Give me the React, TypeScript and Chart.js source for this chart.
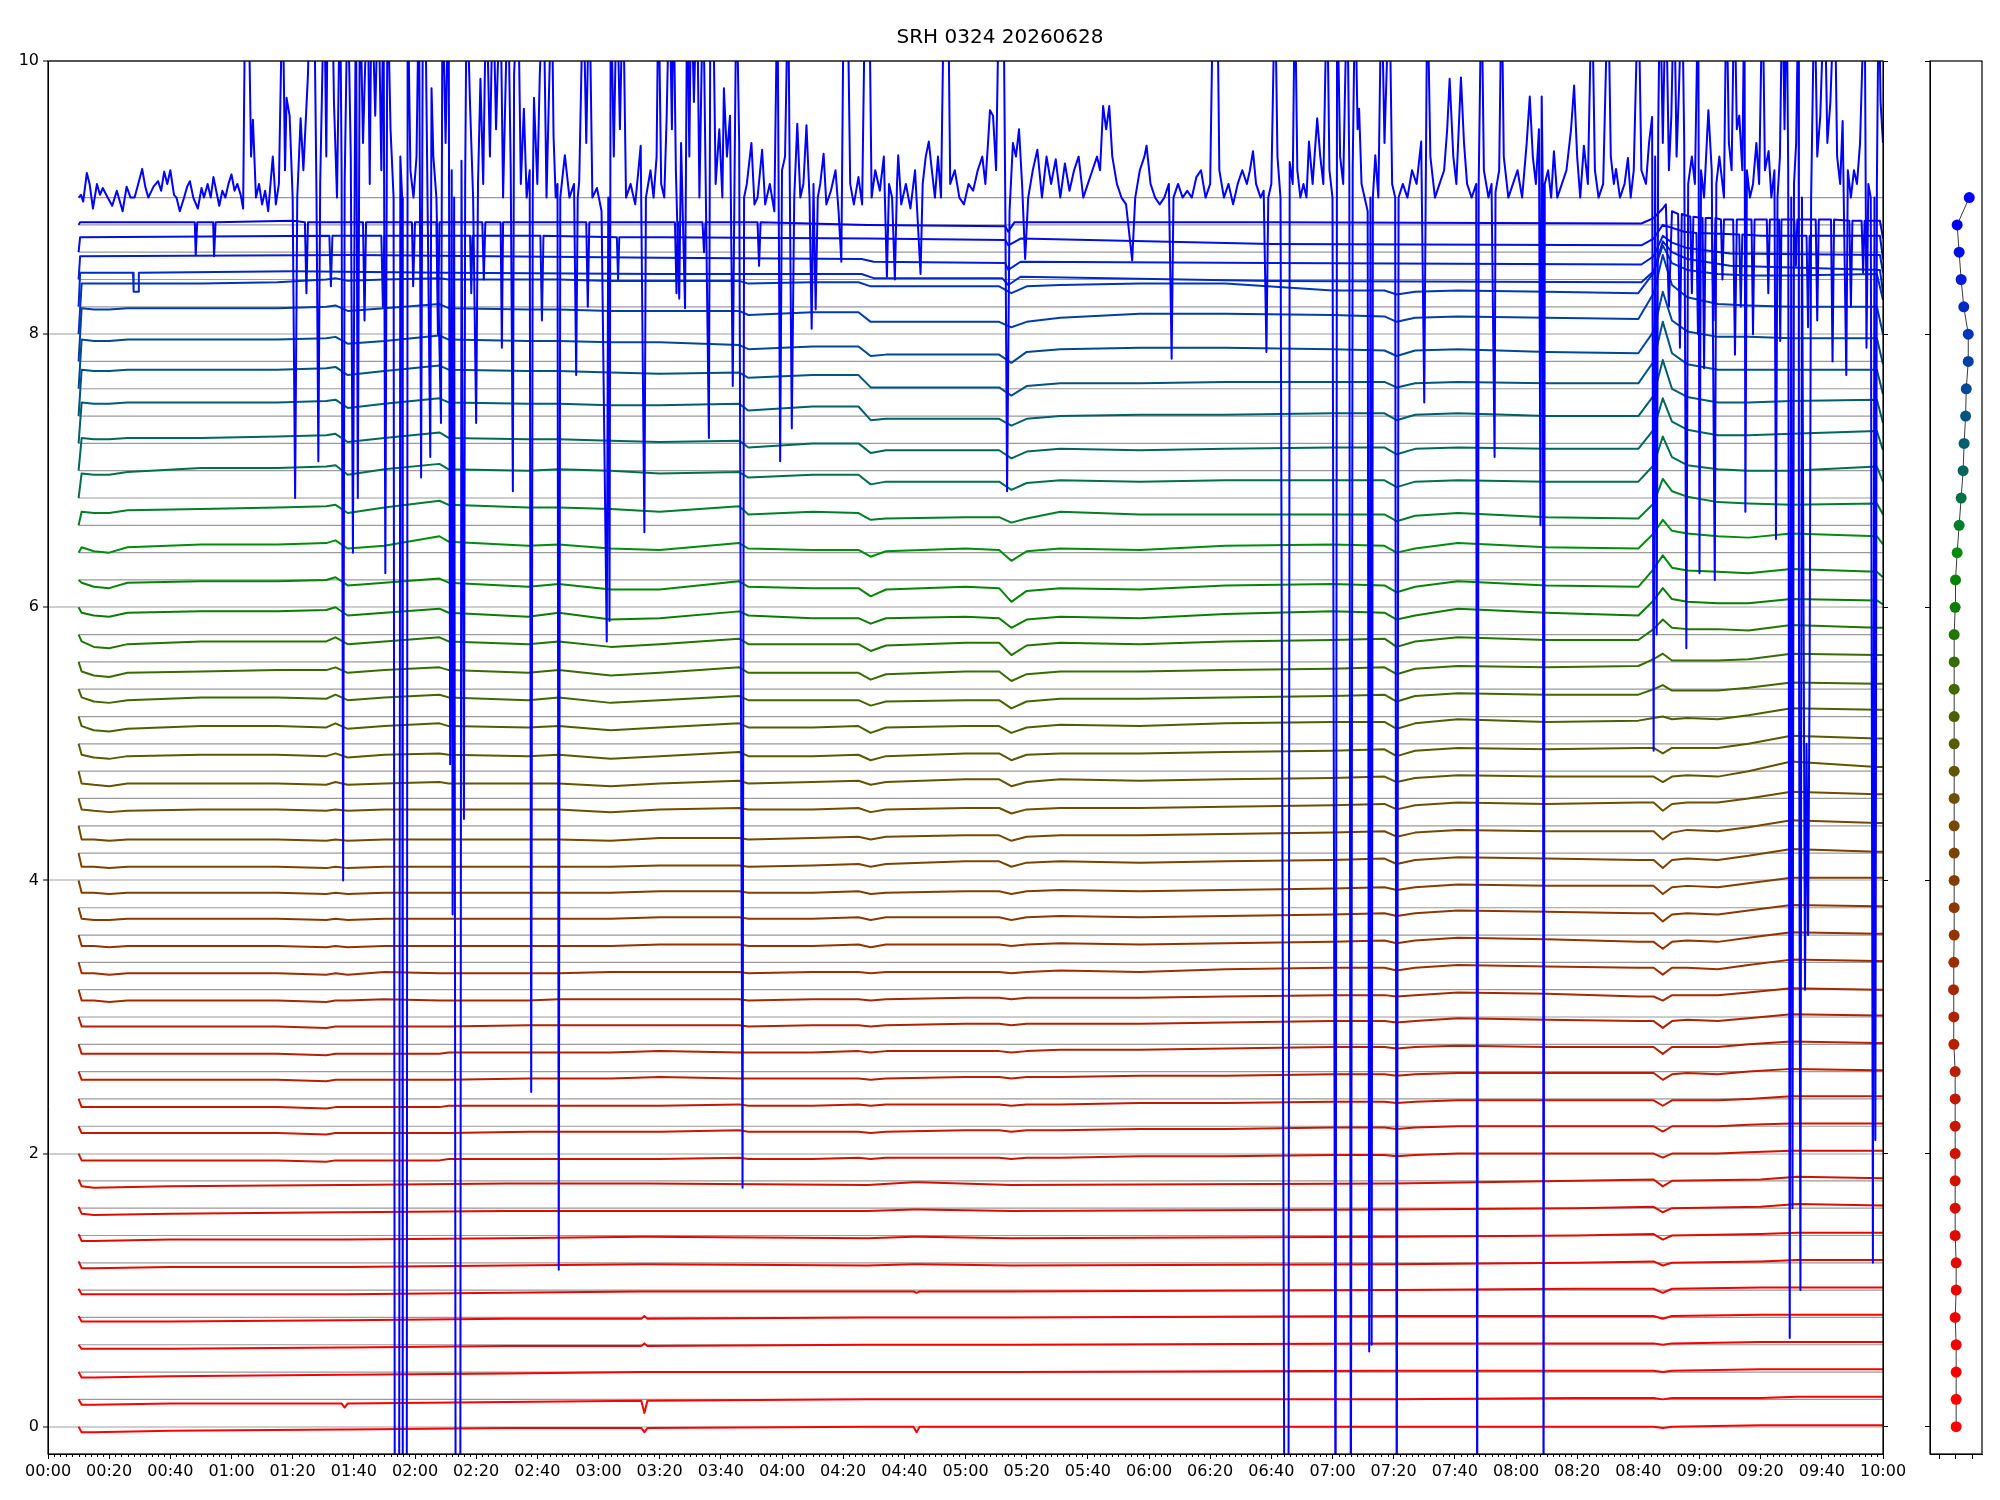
import React, { useEffect, useRef } from 'react';
import { Chart, registerables } from 'chart.js';

Chart.register(...registerables);

// ---------------- text / axes ----------------
const TITLE = 'SRH 0324 20260628';
const X_MAJOR = [0, 20, 40, 60, 80, 100, 120, 140, 160, 180, 200, 220, 240, 260, 280, 300, 320, 340, 360, 380, 400, 420, 440, 460, 480, 500, 520, 540, 560, 580, 600];
const Y_TICKS = [0, 2, 4, 6, 8, 10];
const PROFILE_X_TICKS = [-1, 0, 1];
const LEVEL_STEP = 0.2; // stacking offset between channels
const DATA_START = 10; // minutes (00:10)
const DATA_END = 600; // minutes (10:00)

// ---------------- channels 0-9: deviation (1/100) at TL minutes ----------------
const TL = [10, 11, 15, 40, 96, 97, 98, 150, 194, 195, 196, 268, 283, 284, 285, 315, 440, 500, 525, 528, 531, 560, 572, 600];
const ch00 = [0, -4, -4, -3, -2, -2, -2, -1, -1, -4, -1, 0, 0, -4, 0, 0, 0, 0, 0, -1, 0, 1, 1, 1];
const ch01 = [0, -4, -4, -3, -3, -6, -3, -2, -1, -10, -1, 0, 0, 0, 0, 0, 0, 1, 1, 0, 1, 1, 2, 2];
const ch02 = [0, -4, -4, -3, -2, -2, -2, -1, 0, 0, 0, 0, 0, 0, 0, 0, 1, 1, 1, 0, 1, 2, 2, 2];
const ch03 = [0, -3, -3, -3, -2, -2, -2, -1, -1, 1, -1, 0, 0, 0, 0, 0, 1, 1, 1, 0, 1, 2, 2, 2];
const ch04 = [1, -3, -3, -3, -2, -2, -2, -1, -1, 1, -1, 0, 0, 0, 0, 0, 1, 1, 1, -1, 1, 2, 2, 2];
const ch05 = [1, -3, -3, -3, -3, -3, -3, -2, -1, -1, -1, -1, -1, -2, -1, -1, 0, 1, 1, -2, 1, 2, 2, 2];
const ch06 = [1, -4, -4, -3, -3, -3, -3, -2, -1, -1, -1, -2, -1, -1, -1, -2, -1, 0, 1, -2, 0, 1, 2, 2];
const ch07 = [1, -4, -4, -3, -3, -3, -3, -2, -1, -1, -1, -2, -1, -1, -1, -2, -1, 0, 1, -3, 0, 1, 2, 2];
const ch08 = [1, -4, -5, -4, -3, -3, -3, -2, -2, -2, -2, -2, -1, -1, -1, -2, -1, 0, 1, -3, 0, 1, 3, 2];
const ch09 = [1, -4, -5, -4, -3, -3, -3, -2, -2, -2, -2, -3, -1, -1, -1, -3, -2, 0, 1, -4, 0, 1, 3, 2];

// ---------------- channels 10-40: deviation (1/100) at TM minutes, then TM_END at 10:00 ----------------
const TM = [10, 11, 15, 20, 26, 50, 75, 91, 94, 98, 110, 128, 131, 157, 167, 184, 200, 226, 229, 250, 265, 269, 274, 300, 311, 315, 320, 331, 357, 385, 420, 437, 441, 447, 461, 490, 520, 525, 528, 531, 536, 546, 556, 570, 598];
const ch10 = [0, -5, -5, -5, -5, -5, -5, -6, -5, -5, -5, -5, -4, -4, -4, -4, -4, -3, -4, -4, -3, -4, -3, -3, -3, -4, -3, -3, -2, -2, -1, -1, -2, -1, 0, 0, 0, 0, -3, 0, 0, 0, 1, 2, 2];
const ch11 = [0, -5, -5, -5, -5, -5, -5, -6, -5, -5, -5, -5, -5, -4, -4, -4, -4, -3, -4, -4, -4, -5, -4, -3, -3, -4, -3, -3, -2, -2, -1, -1, -2, -1, 0, 0, 0, 0, -4, 0, 0, 0, 1, 2, 2];
const ch12 = [0, -6, -6, -6, -6, -6, -6, -7, -6, -6, -6, -6, -5, -5, -5, -5, -5, -4, -5, -5, -4, -5, -4, -4, -4, -5, -4, -4, -3, -3, -2, -2, -3, -2, -1, -1, -1, -1, -5, -1, -1, -1, 0, 2, 2];
const ch13 = [0, -6, -6, -6, -6, -6, -6, -7, -6, -6, -6, -6, -6, -5, -5, -5, -4, -5, -5, -5, -5, -6, -5, -4, -4, -5, -4, -4, -3, -3, -2, -2, -3, -2, -1, -1, -1, -1, -6, -2, -1, -2, 0, 2, 1];
const ch14 = [0, -7, -7, -7, -7, -7, -7, -8, -7, -7, -7, -7, -6, -6, -6, -6, -5, -6, -6, -6, -5, -6, -5, -5, -5, -6, -5, -4, -4, -3, -2, -2, -3, -2, -1, -2, -2, -2, -7, -2, -2, -2, 0, 2, 1];
const ch15 = [0, -7, -7, -7, -7, -7, -7, -8, -7, -7, -7, -7, -7, -6, -6, -6, -6, -6, -7, -6, -6, -7, -6, -5, -5, -6, -5, -5, -5, -4, -3, -3, -4, -3, -1, -2, -3, -3, -8, -3, -2, -3, -1, 2, 1];
const ch16 = [0, -8, -8, -9, -8, -8, -8, -9, -8, -8, -7, -8, -8, -8, -7, -7, -7, -7, -8, -7, -7, -8, -7, -6, -6, -7, -6, -6, -6, -5, -4, -4, -5, -4, -2, -3, -5, -5, -8, -4, -4, -4, -2, 1, 0];
const ch17 = [0, -8, -8, -9, -8, -8, -8, -9, -8, -9, -7, -8, -8, -8, -8, -7, -7, -7, -8, -7, -7, -8, -7, -7, -7, -8, -7, -6, -7, -5, -4, -4, -6, -4, -2, -3, -4, -4, -9, -4, -4, -5, -2, 2, 1];
const ch18 = [0, -8, -8, -9, -8, -8, -8, -9, -8, -9, -8, -8, -8, -8, -8, -8, -7, -7, -8, -8, -7, -9, -7, -7, -7, -8, -7, -6, -7, -6, -5, -4, -6, -4, -2, -3, -5, -5, -10, -5, -4, -5, -2, 2, 1];
const ch19 = [0, -8, -9, -9, -8, -8, -8, -9, -8, -9, -8, -8, -8, -8, -8, -8, -7, -7, -8, -8, -7, -9, -7, -7, -7, -9, -7, -6, -7, -6, -5, -4, -6, -4, -2, -3, -4, -4, -10, -5, -4, -5, -2, 2, 1];
const ch20 = [0, -9, -9, -10, -9, -9, -9, -10, -9, -10, -9, -9, -9, -9, -9, -9, -8, -8, -9, -9, -8, -10, -9, -8, -8, -10, -8, -7, -8, -7, -6, -5, -7, -5, -3, -4, -4, -4, -10, -5, -4, -5, -2, 2, 2];
const ch21 = [0, -10, -10, -11, -10, -10, -10, -11, -10, -11, -10, -10, -10, -10, -10, -10, -9, -9, -10, -9, -8, -10, -8, -6, -6, -10, -7, -6, -7, -6, -5, -4, -8, -5, -3, -4, -5, -5, -11, -5, -4, -5, -2, 3, 1];
const ch22 = [0, -10, -10, -11, -10, -10, -10, -11, -10, -11, -10, -10, -10, -10, -10, -11, -9, -9, -10, -9, -8, -10, -8, -7, -7, -11, -8, -7, -7, -6, -5, -4, -8, -5, -3, -4, -4, -4, -10, -5, -3, -4, -1, 4, 2];
const ch23 = [0, -8, -9, -10, -9, -8, -8, -9, -8, -9, -8, -8, -8, -8, -8, -10, -8, -7, -8, -8, -7, -10, -8, -7, -7, -11, -8, -7, -7, -6, -5, -4, -8, -5, -3, -4, -3, -3, -9, -4, -3, -3, 0, 5, 3];
const ch24 = [0, -9, -10, -11, -9, -9, -9, -10, -8, -10, -9, -8, -9, -9, -9, -11, -9, -7, -9, -8, -7, -10, -8, -6, -6, -11, -8, -6, -7, -6, -5, -4, -8, -5, -3, -4, -4, -4, -8, -4, -3, -4, 0, 7, 3];
const ch25 = [0, -8, -10, -11, -9, -8, -8, -9, -7, -10, -8, -7, -8, -9, -8, -11, -9, -6, -9, -9, -8, -12, -9, -7, -7, -12, -8, -7, -7, -6, -5, -4, -9, -5, -3, -4, -3, -3, -7, -3, -3, -3, 0, 6, 4];
const ch26 = [0, -7, -10, -11, -9, -7, -7, -8, -5, -9, -7, -5, -7, -8, -7, -10, -8, -5, -8, -8, -7, -12, -8, -7, -7, -12, -8, -6, -7, -5, -4, -4, -9, -5, -2, -4, -3, -1, 0, -2, -1, -2, 1, 6, 5];
const ch27 = [0, -6, -9, -10, -8, -6, -6, -7, -4, -8, -6, -4, -6, -8, -6, -10, -8, -5, -8, -8, -8, -12, -9, -8, -8, -14, -9, -7, -7, -6, -5, -4, -9, -5, -3, -4, -4, 0, 3, -1, -1, -1, 1, 5, 4];
const ch28 = [0, -7, -10, -11, -8, -7, -6, -6, -4, -8, -6, -4, -6, -8, -6, -10, -8, -4, -8, -8, -8, -13, -9, -7, -7, -14, -9, -7, -7, -6, -5, -4, -9, -5, -3, -4, -3, 2, 6, 1, 1, 1, 2, 6, 5];
const ch29 = [0, -5, -9, -10, -7, -5, -5, -5, -2, -7, -5, -2, -5, -7, -5, -9, -7, -3, -7, -7, -7, -12, -8, -6, -6, -15, -8, -6, -7, -5, -4, -3, -9, -5, -2, -4, -4, 4, 11, 5, 4, 4, 3, 7, 5];
const ch30 = [0, -4, -6, -7, -4, -3, -3, -2, 0, -6, -4, -1, -4, -7, -4, -9, -8, -3, -6, -8, -8, -12, -8, -7, -8, -15, -9, -7, -8, -5, -3, -4, -9, -6, -1, -4, -6, 5, 14, 6, 4, 3, 3, 6, 5];
const ch31 = [0, -2, -5, -6, -2, -1, -1, 0, 2, -4, -2, 1, -2, -5, -3, -7, -7, -1, -5, -6, -6, -12, -7, -5, -6, -16, -8, -6, -7, -4, -3, -4, -9, -5, -1, -4, -5, 8, 18, 9, 7, 6, 5, 8, 6];
const ch32 = [0, 4, 1, 0, 4, 6, 6, 7, 9, 3, 5, 12, 8, 5, 6, 3, 2, 7, 3, 2, 2, -3, 1, 3, 2, -6, 1, 3, 2, 5, 6, 5, 0, 3, 7, 4, 3, 14, 24, 16, 14, 12, 11, 14, 12];
const ch33 = [0, 10, 9, 9, 11, 12, 13, 14, 15, 9, 13, 18, 15, 13, 13, 12, 10, 14, 8, 10, 9, 4, 5, 6, 6, 2, 5, 10, 8, 8, 8, 8, 3, 7, 9, 6, 5, 16, 34, 25, 21, 17, 16, 15, 16];
const ch34 = [0, 18, 17, 17, 19, 22, 22, 23, 24, 17, 21, 25, 21, 20, 21, 20, 18, 19, 15, 17, 17, 10, 12, 12, 12, 6, 11, 13, 12, 13, 13, 13, 8, 12, 13, 12, 12, 24, 45, 30, 24, 21, 20, 20, 23];
const ch35 = [0, 24, 23, 23, 24, 24, 25, 26, 27, 21, 24, 28, 24, 23, 23, 22, 21, 22, 17, 20, 20, 13, 15, 15, 15, 9, 14, 16, 15, 16, 17, 17, 12, 16, 17, 16, 16, 30, 53, 36, 30, 26, 26, 27, 29];
const ch36 = [0, 30, 29, 29, 30, 30, 30, 31, 32, 26, 29, 33, 30, 29, 29, 28, 28, 29, 24, 27, 27, 17, 18, 18, 18, 13, 18, 20, 21, 21, 22, 22, 17, 21, 22, 20, 20, 35, 61, 40, 34, 30, 30, 31, 32];
const ch37 = [0, 34, 33, 33, 34, 34, 34, 35, 36, 30, 33, 37, 34, 33, 33, 32, 31, 32, 28, 30, 30, 21, 21, 21, 21, 15, 22, 24, 24, 25, 25, 25, 21, 24, 25, 24, 24, 40, 69, 46, 38, 34, 34, 34, 34];
const ch38 = [0, 36, 35, 35, 36, 36, 36, 37, 38, 33, 35, 39, 36, 35, 35, 34, 34, 32, 29, 31, 31, 24, 25, 25, 25, 19, 27, 29, 30, 30, 29, 28, 24, 28, 29, 27, 26, 42, 71, 50, 42, 38, 38, 37, 37];
const ch39 = [0, 39, 38, 38, 39, 39, 39, 40, 41, 37, 39, 42, 39, 38, 38, 37, 37, 37, 34, 36, 36, 29, 29, 29, 29, 25, 29, 32, 35, 35, 34, 33, 29, 32, 33, 32, 31, 50, 78, 56, 47, 42, 41, 40, 40];
const ch40 = [0, 37, 37, 37, 37, 37, 38, 40, 41, 39, 40, 41, 40, 40, 40, 39, 39, 39, 37, 38, 38, 35, 35, 35, 35, 30, 35, 36, 37, 37, 32, 32, 29, 31, 32, 31, 30, 45, 65, 52, 47, 44, 43, 43, 44];
// deviation (1/100) at 10:00 for channels 10..40 (end-of-record drop of the upper channels)
const TM_END = [2, 2, 2, 1, 1, 1, 0, 1, 1, 1, 2, 1, 2, 3, 3, 4, 5, 4, 5, 5, 2, 2, 6, 8, 12, 15, 15, 16, 18, 20, 25];

// ---------------- channels 41-45: plotted value pairs [minute, value, ...] ----------------
const ch41 = [10, 8.2, 10.5, 8.45, 27.8, 8.45, 28, 8.31, 29.5, 8.31, 29.7, 8.45, 80, 8.46, 130, 8.45, 200, 8.44, 266, 8.44, 270, 8.41, 312, 8.41, 314, 8.36, 318, 8.42, 400, 8.39, 521, 8.38, 525, 8.46, 528, 8.68, 531, 8.6, 536, 8.55, 550, 8.5, 599, 8.47, 600, 8.3];
const ch42 = [10, 8.4, 10.5, 8.57, 100, 8.58, 200, 8.56, 266, 8.55, 270, 8.53, 313, 8.52, 314, 8.47, 318, 8.53, 400, 8.52, 521, 8.51, 525, 8.57, 528, 8.72, 531, 8.67, 536, 8.63, 550, 8.59, 599, 8.58, 600, 8.45];
const ch43 = [10, 8.6, 10.5, 8.71, 92, 8.72, 92.5, 8.35, 93, 8.72, 109, 8.72, 109.5, 8.2, 110, 8.72, 138, 8.72, 138.4, 8.3, 138.8, 8.72, 161, 8.72, 161.5, 8.1, 162, 8.72, 186, 8.71, 186.4, 8.4, 186.8, 8.71, 200, 8.71, 268, 8.7, 313, 8.69, 314, 8.65, 318, 8.7, 400, 8.66, 521, 8.65, 525, 8.7, 528, 8.8, 535, 8.75, 539, 8.74, 539.5, 8.0, 540, 8.74, 553, 8.73, 553.5, 8.2, 554, 8.73, 560, 8.72, 575, 8.72, 575.5, 8.05, 576, 8.72, 599, 8.72, 600, 8.55];
const ch44 = [10, 8.8, 10.5, 8.82, 48, 8.82, 48.3, 8.58, 48.8, 8.82, 54, 8.82, 54.3, 8.57, 54.8, 8.82, 80, 8.83, 84, 8.82, 84.5, 8.3, 85, 8.82, 103, 8.82, 103.5, 8.1, 104, 8.82, 119, 8.82, 119.4, 8.35, 120, 8.82, 127, 8.82, 127.5, 8.0, 128, 8.82, 142, 8.82, 142.5, 8.4, 143, 8.82, 148, 8.82, 148.4, 7.9, 148.8, 8.82, 176, 8.82, 176.5, 8.2, 177, 8.82, 200, 8.82, 205, 8.82, 205.5, 8.3, 206, 8.82, 214, 8.82, 214.5, 8.6, 215, 8.82, 232, 8.82, 232.5, 8.5, 233, 8.82, 268, 8.8, 313, 8.79, 314, 8.75, 316, 8.82, 400, 8.82, 521, 8.81, 525, 8.85, 528, 8.92, 529, 8.95, 530, 8.2, 531, 8.9, 533, 8.88, 533.6, 7.9, 534.2, 8.88, 537, 8.86, 537.5, 8.3, 538, 8.86, 541, 8.85, 541.5, 7.75, 542, 8.85, 544, 8.85, 544.6, 8.1, 545.2, 8.85, 547, 8.84, 547.5, 8.4, 548, 8.84, 551, 8.84, 551.6, 7.85, 552.2, 8.84, 557, 8.84, 557.5, 8.0, 558, 8.84, 562, 8.84, 562.5, 8.3, 563, 8.84, 566, 8.84, 566.4, 7.95, 566.8, 8.84, 571, 8.84, 571.5, 8.5, 572, 8.84, 578, 8.84, 578.5, 8.1, 579, 8.84, 583, 8.84, 583.5, 7.8, 584, 8.84, 589, 8.83, 589.5, 8.2, 590, 8.83, 593, 8.83, 593.5, 8.45, 594, 8.83, 599, 8.83, 600, 8.7];
const ch45 = [
  10, 9.0, 10.8, 9.02, 11.5, 8.97, 12.7, 9.18, 13.6, 9.1, 14.7, 8.92, 16, 9.1, 17, 9.02, 17.9, 9.07, 19.5, 9.0, 21, 8.94, 22.5, 9.05, 24.4, 8.9, 25.7, 9.08, 27, 9.0, 28.3, 9.0, 29.5, 9.1, 30.8, 9.21, 31.8, 9.08, 32.8, 9.0, 34.5, 9.08, 36, 9.12, 37, 9.05, 38, 9.19, 39, 9.1, 40, 9.2, 41.2, 9.02, 42, 9.0, 43.1, 8.9, 44.5, 9.0, 45.5, 9.08, 46.4, 9.12, 47.5, 9.0, 49, 8.92, 50.2, 9.07, 51, 9.0, 52.2, 9.1, 53.2, 9.0, 54.1, 9.15, 55, 9.05, 56, 8.94, 57, 9.05, 58, 9.0, 59, 9.1, 60, 9.17, 61, 9.05, 61.9, 9.1, 63, 9.02, 63.8, 8.92,
  64.5, 10.6, 65.5, 10.6, 66.4, 9.3, 67, 9.57, 68, 9.0, 69, 9.1, 70, 8.95, 71, 9.05, 72, 8.9, 73.5, 9.3, 74.5, 8.95, 75.5, 9.1, 76.7, 10.6, 77.5, 9.2, 78, 9.73, 79, 9.6, 80, 9.0, 80.8, 6.8, 81.5, 9.0, 82.6, 9.58, 83.5, 9.2, 85, 9.9, 85.8, 10.6, 87, 10.6, 87.8, 9.0, 88.4, 7.07, 89, 9.1, 90.3, 10.6, 91, 9.3, 91.5, 10.6, 92.9, 10.6, 93.5, 9.7, 94.5, 9.0, 95.5, 10.6, 96, 9.2, 96.5, 4.0, 97, 9.1, 98, 10.6, 99, 9.3, 99.7, 6.4, 100.3, 9.2, 100.7, 10.6, 101.3, 6.8, 102, 10.6, 103, 9.4, 104.5, 10.6, 105.2, 9.1, 105.8, 10.6, 107, 9.6, 108, 10.6, 109, 9.2, 109.7, 10.6, 110.3, 6.25, 111, 10.6, 112, 9.5, 113, 9.0, 113.4, -1, 114.8, -1, 115.2, 9.3, 115.8, 9.0, 116, -1, 117.3, -1, 117.6, 10.6, 118.5, 9.2, 119.5, 9.0, 120.5, 9.3, 121.3, 10.6, 122, 6.95, 122.6, 10.6, 123.3, 10.6, 124, 9.2, 125, 7.1, 125.4, 9.8, 126, 9.3, 127, 9.0, 128.5, 7.35, 129, 10.6, 130, 9.4, 131, 10.6, 131.5, 4.85, 132, 9.2, 132.3, 3.75, 132.8, 9.0, 133.3, -1, 134.8, -1, 135.2, 9.27, 136, 4.45, 136.4, 9.1, 136.9, 10.6, 138, 9.68, 139, 9.0, 140, 7.35, 140.6, 9.1, 141.4, 9.87, 142.3, 9.1, 143.3, 10.6, 144.5, 9.3, 145.5, 10.6, 146.5, 9.5, 147.9, 10.6, 148.8, 9.0, 150.4, 10.6, 151.3, 9.2, 152, 6.85, 152.4, 9.9, 153.7, 10.6, 154.6, 9.1, 155.6, 9.65, 156.5, 9.0, 157.5, 9.2, 158, 2.45, 158.5, 9.0, 158.9, 9.73, 160, 9.1, 160.8, 9.9, 162, 10.6, 163, 9.0, 164.7, 10.6, 165.3, 9.45, 166, 9.0, 166.6, 9.1, 167, 1.15, 167.5, 9.0, 169, 9.31, 170.5, 9.0, 172, 9.1, 172.7, 7.7, 173.2, 9.0, 173.7, 9.12, 175, 10.6, 176, 9.4, 177, 10.6, 178, 9.0, 179.5, 9.07, 181, 8.9, 182.7, 5.75, 183.2, 9.0, 183.6, 5.9, 184, 10.6, 185, 9.3, 186, 10.6, 187, 9.5, 188, 10.6, 189, 9.0, 190.5, 9.1, 192, 8.95, 193.8, 9.38, 195, 6.55, 195.5, 9.0, 197, 9.2, 198, 9.0, 199, 9.3, 199.6, 10.6, 200.5, 9.1,
  201.5, 9.0, 202.3, 9.6, 203.2, 10.6, 204, 9.5, 204.5, 10.6, 205.3, 9.2, 206.4, 8.26, 207, 9.4, 208.3, 8.19, 209, 10.6, 209.7, 9.3, 210.3, 10.6, 211.2, 9.7, 212.2, 10.6, 213, 9.0, 214.2, 10.6, 215, 9.2, 216.1, 7.24, 216.6, 10.6, 217.4, 10.6, 218.3, 9.1, 219.5, 9.5, 220.5, 9.0, 221, 9.8, 222, 9.3, 223, 9.6, 223.9, 7.62, 224.5, 9.2, 225.1, 10.6, 226, 9.4, 227.1, 1.75, 227.6, 9.0, 228.5, 9.1, 230, 9.4, 231, 8.95, 232, 9.0, 233.5, 9.35, 234.5, 8.95, 236, 9.1, 237.5, 8.9, 238.5, 10.6, 239.4, 7.07, 240, 9.2, 241, 9.3, 242, 10.6, 243.2, 7.31, 244, 9.0, 245, 9.54, 246, 9.0, 247, 9.1, 248, 9.53, 249, 9.0, 249.7, 8.04, 250.3, 9.1, 251, 8.18, 251.7, 9.0, 252.5, 9.1, 253.6, 9.32, 254.5, 8.95, 256, 9.05, 257.5, 9.2, 258.5, 8.9, 259.4, 8.53, 260.2, 10.6, 261.4, 10.6, 262.3, 9.1, 263.5, 8.95, 265, 9.15, 266.2, 8.95, 267.2, 10.6, 268.5, 10.6, 269.3, 9.0, 270.5, 9.2, 272, 9.05, 273.3, 9.3, 274.3, 8.42, 275, 9.1, 276, 9.0, 276.9, 8.4, 277.6, 9.1, 278, 9.31, 279, 8.95, 280.5, 9.1, 282, 8.92, 283.5, 9.2, 285.3, 8.44, 286, 9.1, 287, 9.3, 288, 9.41, 289, 9.2, 290, 9.0, 291, 9.3, 292, 9.0, 293, 10.6, 294.3, 10.6, 295, 9.1, 296.5, 9.2, 298, 9.0, 299.5, 8.95, 301, 9.1, 302.5, 9.05, 304, 9.2, 305.5, 9.3, 306.5, 9.1, 307.5, 9.45, 308, 9.64, 309, 9.6, 310, 9.2, 311, 10.6, 312.4, 10.6, 313, 9.0, 313.6, 6.85, 314.4, 8.9, 315.5, 9.4, 316.5, 9.3, 317.5, 9.5, 318.5, 9.1, 319.5, 8.55, 320.5, 9.0, 322, 9.2, 323.5, 9.35, 325, 9.0, 326.5, 9.3, 328, 9.1, 329.5, 9.28, 331, 9.0, 332.5, 9.25, 334, 9.05, 335.5, 9.2, 337, 9.3, 338.5, 9.0, 340, 9.1, 341.5, 9.2, 343, 9.3, 344, 9.2, 345, 9.67, 346, 9.5, 347, 9.67, 348, 9.3, 349.5, 9.1, 351, 9.0, 352.5, 8.95, 354.5, 8.54, 355.5, 9.0, 357, 9.2, 358.5, 9.3, 359.2, 9.38, 360.5, 9.1, 362, 9.0, 363.5, 8.95, 365, 9.0, 366.5, 9.1, 367.4, 7.82, 368, 9.0, 369.5, 9.1, 371, 9.0, 372.5, 9.05, 374, 9.0, 375.5, 9.15, 377, 9.2, 378.5, 9.0, 380, 9.1, 381, 10.6, 382.3, 10.6, 383, 9.2, 384.5, 9.0, 386, 9.1, 387.5, 8.95, 389, 9.1, 390.5, 9.2, 392, 9.1, 393, 9.2, 394, 9.34, 395, 9.1, 396.5, 9.0, 397.5, 9.05, 398.4, 7.87, 399, 9.0,
  400, 9.1, 401.2, 10.6, 402, 9.3, 403, 9.0, 404.3, -1, 405.6, -1, 406, 9.26, 407, 9.1, 407.7, 10.6, 408.5, 9.2, 409.5, 9.0, 410.5, 9.1, 411.5, 9.0, 412.3, 9.41, 413.5, 9.1, 415, 9.58, 416, 9.3, 417, 9.1, 418.2, 10.6, 419, 9.2, 420, 9.0, 421, -1, 421.5, 10.6, 422.5, 9.3, 423.5, 9.1, 424.8, 10.6, 425.5, 9.2, 426, -1, 426.6, 9.2, 427.4, 10.6, 428.2, 9.5, 428.7, 9.65, 429.5, 9.1, 430.5, 9.0, 431.5, 8.9, 432, 0.55, 432.4, 9.0, 432.8, 0.6, 433.2, 9.0, 434, 9.31, 435, 9.0, 436, 10.6, 437, 9.4, 438.6, 10.6, 439.5, 9.1, 440.5, 9.0, 441, -1, 441.6, 9.0, 443, 9.1, 444.5, 9.0, 446, 9.2, 447.5, 9.1, 449, 9.41, 450, 7.5, 450.5, 9.1, 451, 10.6, 452, 9.3, 453.5, 9.0, 455, 9.1, 456.5, 9.2, 457.5, 9.5, 458.3, 9.87, 459.5, 9.3, 460.5, 9.1, 462, 9.88, 463, 9.4, 464, 9.1, 465.5, 9.0, 467, 9.1, 467.3, -1, 467.8, 9.1, 468.7, 10.6, 469.5, 9.2, 471, 9.0, 472, 9.1, 473, 7.1, 473.3, 9.04, 474.5, 9.2, 475.3, 10.6, 476, 9.3, 477.5, 9.0, 479, 9.1, 480.5, 9.2, 482, 9.0, 483.5, 9.4, 484.5, 9.74, 485.5, 9.3, 486.5, 9.1, 487.5, 9.5, 488, 6.6, 488.4, 9.74, 488.8, 9.0, 489, -1, 489.4, 9.1, 490.5, 9.2, 491.5, 9.0, 492.4, 9.34, 493.5, 9.0, 495, 9.1, 496.5, 9.2, 498, 9.5, 499, 9.82, 500, 9.3, 501, 9.0, 502.2, 9.38, 503.5, 9.1, 504.8, 10.6, 505.8, 9.2, 507, 9.0, 508.5, 9.1, 510.1, 10.6, 511, 9.3, 512, 9.1, 512.7, 9.21, 514, 9.0, 515.5, 9.1, 516.6, 9.29, 517.5, 9.0, 518.5, 9.2, 520, 10.6, 521, 9.2, 522.5, 9.1, 523.5, 9.4, 524.5, 9.59, 525, 4.95, 525.5, 9.3, 526, 5.8, 526.5, 9.5, 527.1, 10.6, 528, 9.4, 529, 10.6, 530, 9.2, 530.8, 9.6, 531.7, 10.6, 532.5, 9.3, 533.3, 9.8, 534.3, 10.6, 535, 9.4, 535.7, 5.7, 536.3, 9.1, 537.5, 9.3, 538.5, 9.1, 539.6, 10.6, 540, 6.25, 540.5, 9.2, 541.5, 9.0, 542.9, 9.64, 544, 9.2, 545, 6.2, 545.5, 9.1, 546.5, 9.3, 548, 9.0, 548.8, 10.6, 549.6, 9.4, 550.5, 9.2, 551.4, 10.6, 552.2, 9.5, 553, 9.6, 554, 9.2, 554.7, 10.6, 555, 6.7, 555.5, 9.2, 556.5, 9.0, 557.5, 9.1, 558.6, 9.4, 559.5, 9.1, 560.6, 10.6, 561.4, 9.2, 562.6, 9.34, 563.5, 9.0, 564.5, 9.2, 565, 6.5, 565.5, 9.0, 566.3, 9.3, 567.1, 10.6, 567.8, 9.5, 568.5, 10.6, 569, 9.2, 569.5, 0.65, 570, 9.0, 570.4, 1.6, 570.9, 9.1, 571.6, 9.4, 572.4, 10.6, 572.5, 6.05, 573, 1.0, 573.5, 9.0, 574.5, 3.2, 575, 5.0, 575.5, 3.6, 576, 5.5, 576.5, 9.0, 577.6, 10.6, 578.5, 9.3, 579.5, 9.6, 580.9, 10.6, 581.8, 9.4, 582.8, 9.7, 584.2, 10.6, 585, 9.3, 586, 9.1, 586.8, 9.56, 588, 7.7, 588.5, 9.2, 589.5, 9.0, 590.5, 9.2, 591.5, 9.1, 592.5, 9.4, 594, 10.6, 594.6, 7.9, 595.2, 9.1, 596, 9.0, 596.7, 1.2, 597.2, 9.0, 597.5, 2.1, 598, 9.1, 598.6, 10.6, 599.2, 9.7, 600, 9.4,
];

// ---------------- right panel: per-channel profile value (channel 0 .. 45) ----------------
const PROFILE_X = [0.02, 0.02, 0.02, 0.02, -0.04, 0.02, 0.02, -0.04, -0.04, -0.04, -0.04, -0.04, -0.04, -0.04, -0.12, -0.12, -0.14, -0.12, -0.1, -0.1, -0.1, -0.1, -0.1, -0.1, -0.1, -0.1, -0.1, -0.1, -0.1, -0.1, -0.04, -0.02, 0.08, 0.2, 0.32, 0.44, 0.5, 0.59, 0.63, 0.75, 0.75, 0.48, 0.32, 0.2, 0.08, 0.81];

// ---------------- styles ----------------
const FONT = '"DejaVu Sans", sans-serif';
const COLOR_STOPS: number[][] = [
  [0, 255, 0, 0], [5, 235, 5, 0], [10, 205, 20, 0], [15, 175, 35, 0], [20, 130, 62, 0], [23, 110, 78, 0],
  [25, 88, 90, 0], [28, 55, 108, 0], [30, 10, 126, 0], [32, 0, 140, 12], [34, 0, 112, 72], [36, 0, 95, 108],
  [38, 0, 72, 148], [40, 0, 52, 185], [42, 0, 30, 215], [44, 0, 0, 238], [45, 0, 0, 255],
];

function channelColor(i: number): string {
  for (let k = 0; k < COLOR_STOPS.length - 1; k++) {
    const a = COLOR_STOPS[k];
    const b = COLOR_STOPS[k + 1];
    if (i >= a[0] && i <= b[0]) {
      const f = (i - a[0]) / (b[0] - a[0]);
      const r = Math.round(a[1] + (b[1] - a[1]) * f);
      const g = Math.round(a[2] + (b[2] - a[2]) * f);
      const bl = Math.round(a[3] + (b[3] - a[3]) * f);
      return `rgb(${r},${g},${bl})`;
    }
  }
  return 'rgb(0,0,255)';
}

const LOW = [ch00, ch01, ch02, ch03, ch04, ch05, ch06, ch07, ch08, ch09];
const MID = [ch10, ch11, ch12, ch13, ch14, ch15, ch16, ch17, ch18, ch19, ch20, ch21, ch22, ch23, ch24, ch25, ch26, ch27, ch28, ch29, ch30, ch31, ch32, ch33, ch34, ch35, ch36, ch37, ch38, ch39, ch40];
const TOP = [ch41, ch42, ch43, ch44, ch45];
const N_CH = LOW.length + MID.length + TOP.length;

function channelPoints(i: number) {
  const level = i * LEVEL_STEP;
  if (i < LOW.length) return TL.map((t, k) => ({ x: t, y: level + LOW[i][k] / 100 }));
  if (i < LOW.length + MID.length) {
    const m = i - LOW.length;
    const pts = TM.map((t, k) => ({ x: t, y: level + MID[m][k] / 100 }));
    pts.push({ x: DATA_END, y: level + TM_END[m] / 100 });
    return pts;
  }
  const arr = TOP[i - LOW.length - MID.length];
  const pts: { x: number; y: number }[] = [];
  for (let k = 0; k < arr.length; k += 2) pts.push({ x: arr[k], y: arr[k + 1] });
  return pts;
}

function hhmm(m: number): string {
  const h = Math.floor(m / 60);
  const mm = Math.round(m - h * 60);
  return `${String(h).padStart(2, '0')}:${String(mm).padStart(2, '0')}`;
}

const framePlugin = {
  id: 'frame',
  afterDraw(chart: any) {
    const { ctx, chartArea } = chart;
    ctx.save();
    ctx.strokeStyle = '#000';
    ctx.lineWidth = 1.2;
    ctx.strokeRect(chartArea.left, chartArea.top, chartArea.right - chartArea.left, chartArea.bottom - chartArea.top);
    ctx.restore();
  },
};

const minorTicksPlugin = {
  id: 'minorTicks',
  afterDraw(chart: any) {
    const { ctx, chartArea } = chart;
    const xs = chart.scales.x;
    ctx.save();
    ctx.strokeStyle = '#000';
    ctx.lineWidth = 1;
    ctx.beginPath();
    for (let m = 0; m <= 600; m += 2) {
      if (m % 20 === 0) continue;
      const px = Math.round(xs.getPixelForValue(m)) + 0.5;
      ctx.moveTo(px, chartArea.bottom);
      ctx.lineTo(px, chartArea.bottom + 3);
    }
    ctx.stroke();
    ctx.restore();
  },
};

export default function App() {
  const mainRef = useRef<HTMLCanvasElement>(null);
  const sideRef = useRef<HTMLCanvasElement>(null);

  useEffect(() => {
    const baseDatasets: any[] = [];
    for (let i = 0; i < N_CH; i++) {
      if (i % 10 === 0) continue; // levels on major y grid lines
      baseDatasets.push({
        data: [{ x: DATA_START, y: i * LEVEL_STEP }, { x: DATA_END, y: i * LEVEL_STEP }],
        borderColor: '#9a9a9a',
        borderWidth: 1.2,
        pointRadius: 0,
        yAxisID: 'y',
        xAxisID: 'x',
        order: 1000,
      });
    }
    const traceDatasets: any[] = [];
    for (let i = 0; i < N_CH; i++) {
      traceDatasets.push({
        data: channelPoints(i),
        borderColor: channelColor(i),
        borderWidth: 2,
        pointRadius: 0,
        borderJoinStyle: 'round',
        yAxisID: 'y',
        xAxisID: 'x',
        order: 100 - i,
      });
    }
    const setY = (s: any) => { s.ticks = Y_TICKS.map((v) => ({ value: v })); };

    const main = new Chart(mainRef.current as HTMLCanvasElement, {
      type: 'line',
      data: { datasets: [...baseDatasets, ...traceDatasets] },
      options: {
        animation: false,
        responsive: false,
        events: [],
        layout: { padding: 0 },
        elements: { line: { tension: 0 }, point: { radius: 0 } },
        plugins: {
          legend: { display: false },
          tooltip: { enabled: false },
          title: {
            display: true,
            text: TITLE,
            color: '#000',
            font: { family: FONT, size: 20, weight: 'normal' },
            padding: { top: 26, bottom: 11 },
          },
        },
        scales: {
          x: {
            type: 'linear',
            min: 0,
            max: 600,
            afterBuildTicks: (s: any) => { s.ticks = X_MAJOR.map((v) => ({ value: v })); },
            afterFit: (s: any) => { s.height = 46; },
            ticks: { callback: (v: any) => hhmm(Number(v)), color: '#000', font: { family: FONT, size: 16 }, maxRotation: 0, autoSkip: false, padding: 3 },
            grid: { drawOnChartArea: false, drawTicks: true, tickLength: 5, tickColor: '#000', tickWidth: 1 },
            border: { display: true, color: '#000', width: 1 },
          },
          y: {
            type: 'linear',
            position: 'left',
            min: -0.2,
            max: 10,
            afterBuildTicks: setY,
            afterFit: (s: any) => { s.width = 48; },
            ticks: { color: '#000', font: { family: FONT, size: 16 }, padding: 4, callback: (v: any) => String(v) },
            grid: { drawOnChartArea: true, color: '#cfcfcf', lineWidth: 2, drawTicks: true, tickLength: 5, tickColor: '#000', tickWidth: 1 },
            border: { display: true, color: '#000', width: 1 },
          },
          y2: {
            type: 'linear',
            position: 'right',
            min: -0.2,
            max: 10,
            afterBuildTicks: setY,
            afterFit: (s: any) => { s.width = 117; },
            ticks: { display: false },
            grid: { drawOnChartArea: false, drawTicks: true, tickLength: 5, tickColor: '#000', tickWidth: 1 },
            border: { display: true, color: '#000', width: 1 },
          },
        },
      } as any,
      plugins: [minorTicksPlugin, framePlugin],
    });

    const colors = PROFILE_X.map((_, i) => channelColor(i));
    const side = new Chart(sideRef.current as HTMLCanvasElement, {
      type: 'line',
      data: {
        datasets: [{
          data: PROFILE_X.map((x, i) => ({ x, y: i * LEVEL_STEP })),
          borderColor: '#3a3a3a',
          borderWidth: 1,
          pointRadius: 5.5,
          pointBackgroundColor: colors,
          pointBorderColor: colors,
          pointBorderWidth: 0,
          tension: 0,
        }],
      },
      options: {
        animation: false,
        responsive: false,
        events: [],
        layout: { padding: { top: 61, right: 18, left: 0, bottom: 0 } },
        plugins: { legend: { display: false }, tooltip: { enabled: false }, title: { display: false } },
        scales: {
          x: {
            type: 'linear',
            min: -1.56,
            max: 1.58,
            afterBuildTicks: (s: any) => { s.ticks = PROFILE_X_TICKS.map((v) => ({ value: v })); },
            afterFit: (s: any) => { s.height = 46; },
            ticks: { display: false },
            grid: { drawOnChartArea: false, drawTicks: true, tickLength: 5, tickColor: '#000' },
            border: { display: true, color: '#000', width: 1 },
          },
          y: {
            type: 'linear',
            min: -0.2,
            max: 10,
            afterBuildTicks: setY,
            afterFit: (s: any) => { s.width = 30; },
            ticks: { display: false },
            grid: { drawOnChartArea: false, drawTicks: true, tickLength: 5, tickColor: '#000' },
            border: { display: true, color: '#000', width: 1 },
          },
        },
      } as any,
      plugins: [framePlugin],
    });

    return () => {
      main.destroy();
      side.destroy();
    };
  }, []);

  return (
    <div style={{ position: 'absolute', left: 0, top: 0, width: 2000, height: 1500, background: '#fff' }}>
      <canvas ref={mainRef} width={2000} height={1500} style={{ position: 'absolute', left: 0, top: 0 }} />
      <canvas ref={sideRef} width={100} height={1500} style={{ position: 'absolute', left: 1900, top: 0 }} />
    </div>
  );
}
